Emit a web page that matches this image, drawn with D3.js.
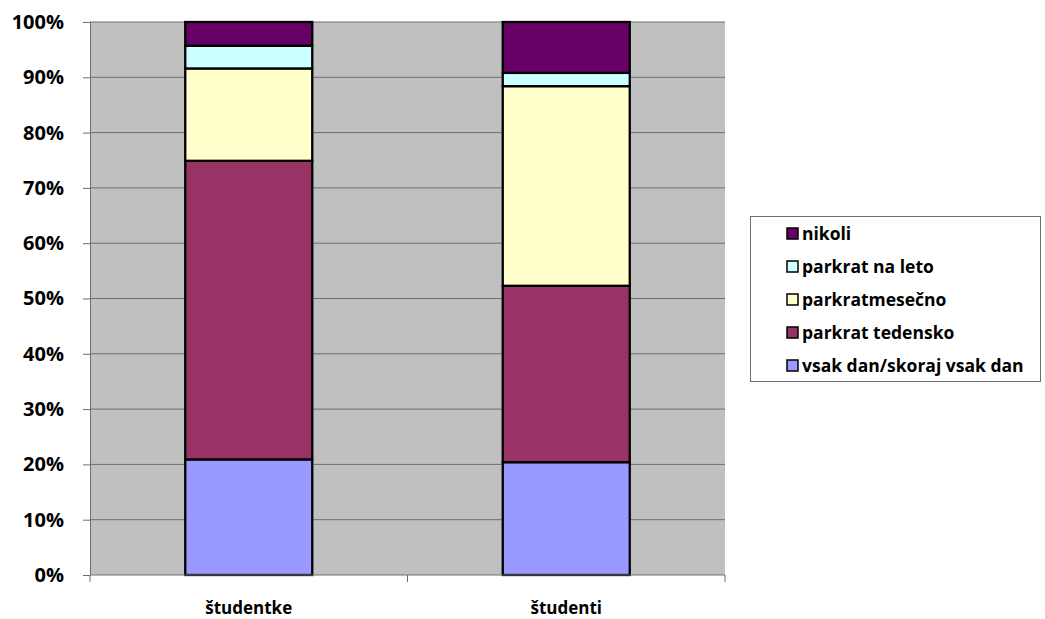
<!DOCTYPE html>
<html>
<head>
<meta charset="utf-8">
<script src="https://cdn.jsdelivr.net/npm/d3@7"></script>
<style>
  body { margin: 0; background: #fff; }
  text { font-family: "Open Sans", "Noto Sans", sans-serif; font-weight: 700; }
</style>
</head>
<body>
<svg id="chart" width="1045" height="619"></svg>
<script>
// categories and series (percent of each group)
var groups = ['študentke', 'študenti'];
var seriesNames = ['vsak dan/skoraj vsak dan', 'parkrat tedensko', 'parkratmesečno', 'parkrat na leto', 'nikoli'];
var seriesColors = ['#9999FF', '#993366', '#FFFFCC', '#CCFFFF', '#660066'];
var vsakDan   = [20.9, 20.4];
var tedensko  = [54.0, 31.9];
var mesecno   = [16.7, 36.1];
var naLeto    = [4.1, 2.4];
var nikoli    = [4.3, 9.2];
var yTicks = [0, 10, 20, 30, 40, 50, 60, 70, 80, 90, 100];

var svg = d3.select('#chart');
var plot = { left: 90, right: 725, top: 22, bottom: 575 };

// build rows for the stack
var rows = groups.map(function(g, i) {
    var r = { group: g };
    r[seriesNames[0]] = vsakDan[i];
    r[seriesNames[1]] = tedensko[i];
    r[seriesNames[2]] = mesecno[i];
    r[seriesNames[3]] = naLeto[i];
    r[seriesNames[4]] = nikoli[i];
    return r;
});
var stacked = d3.stack().keys(seriesNames).offset(d3.stackOffsetExpand)(rows);

var x = d3.scaleBand().domain(groups)
    .range([plot.left, plot.right])
    .paddingInner(0.6).paddingOuter(0.3);
var y = d3.scaleLinear().domain([0, 1]).range([plot.bottom, plot.top]);

// plot background
svg.append('rect')
    .attr('x', plot.left).attr('y', plot.top)
    .attr('width', plot.right - plot.left).attr('height', plot.bottom - plot.top)
    .attr('fill', '#C0C0C0');

// gridlines
svg.append('g').selectAll('line')
    .data(yTicks.slice(1))
    .join('line')
    .attr('x1', plot.left).attr('x2', plot.right)
    .attr('y1', function(d) { return y(d / 100); })
    .attr('y2', function(d) { return y(d / 100); })
    .attr('stroke', '#6e6e6e').attr('stroke-width', 1);

// bars
svg.append('g').selectAll('g')
    .data(stacked)
    .join('g')
    .attr('fill', function(d, i) { return seriesColors[i]; })
    .selectAll('rect')
    .data(function(d) { return d; })
    .join('rect')
    .attr('x', function(d) { return x(d.data.group); })
    .attr('y', function(d) { return y(d[1]); })
    .attr('width', x.bandwidth())
    .attr('height', function(d) { return y(d[0]) - y(d[1]); })
    .attr('stroke', '#000').attr('stroke-width', 2.3);

// y axis
var yAxis = svg.append('g')
    .attr('transform', 'translate(' + plot.left + ',0)')
    .call(d3.axisLeft(y).tickValues(yTicks.map(function(d) { return d / 100; }))
        .tickFormat(function(d) { return Math.round(d * 100) + '%'; })
        .tickSize(7).tickPadding(19));
yAxis.select('.domain').attr('stroke', '#6e6e6e').attr('d', 'M0.5,' + plot.top + 'V' + plot.bottom);
yAxis.selectAll('.tick line').attr('stroke', '#6e6e6e');
yAxis.selectAll('text').attr('font-size', 20).attr('fill', '#000');

// x axis
var xAxisG = svg.append('g').attr('transform', 'translate(0,' + plot.bottom + ')');
xAxisG.append('line')
    .attr('x1', plot.left).attr('x2', plot.right)
    .attr('stroke', '#6e6e6e');
var xTickPos = [plot.left, (plot.left + plot.right) / 2, plot.right];
xAxisG.selectAll('.xt')
    .data(xTickPos)
    .join('line')
    .attr('x1', function(d) { return d; }).attr('x2', function(d) { return d; })
    .attr('y1', 0).attr('y2', 7)
    .attr('stroke', '#6e6e6e');
xAxisG.selectAll('text')
    .data(groups)
    .join('text')
    .attr('x', function(d) { return x(d) + x.bandwidth() / 2; })
    .attr('y', 39)
    .attr('text-anchor', 'middle')
    .attr('font-size', 17)
    .text(function(d) { return d; });

// legend
var legend = svg.append('g');
legend.append('rect')
    .attr('x', 750.5).attr('y', 216.5)
    .attr('width', 290).attr('height', 165)
    .attr('fill', '#fff').attr('stroke', '#6e6e6e');
var legendOrder = seriesNames.slice().reverse();
var legendColors = seriesColors.slice().reverse();
var items = legend.selectAll('g.item')
    .data(legendOrder)
    .join('g')
    .attr('transform', function(d, i) { return 'translate(787,' + (233 + i * 33) + ')'; });
items.append('rect')
    .attr('x', 0).attr('y', -5)
    .attr('width', 11).attr('height', 11)
    .attr('fill', function(d, i) { return legendColors[i]; })
    .attr('stroke', '#000').attr('stroke-width', 1.5);
items.append('text')
    .attr('x', 15).attr('y', 6.5)
    .attr('font-size', 17.5)
    .text(function(d) { return d; });
</script>
</body>
</html>
